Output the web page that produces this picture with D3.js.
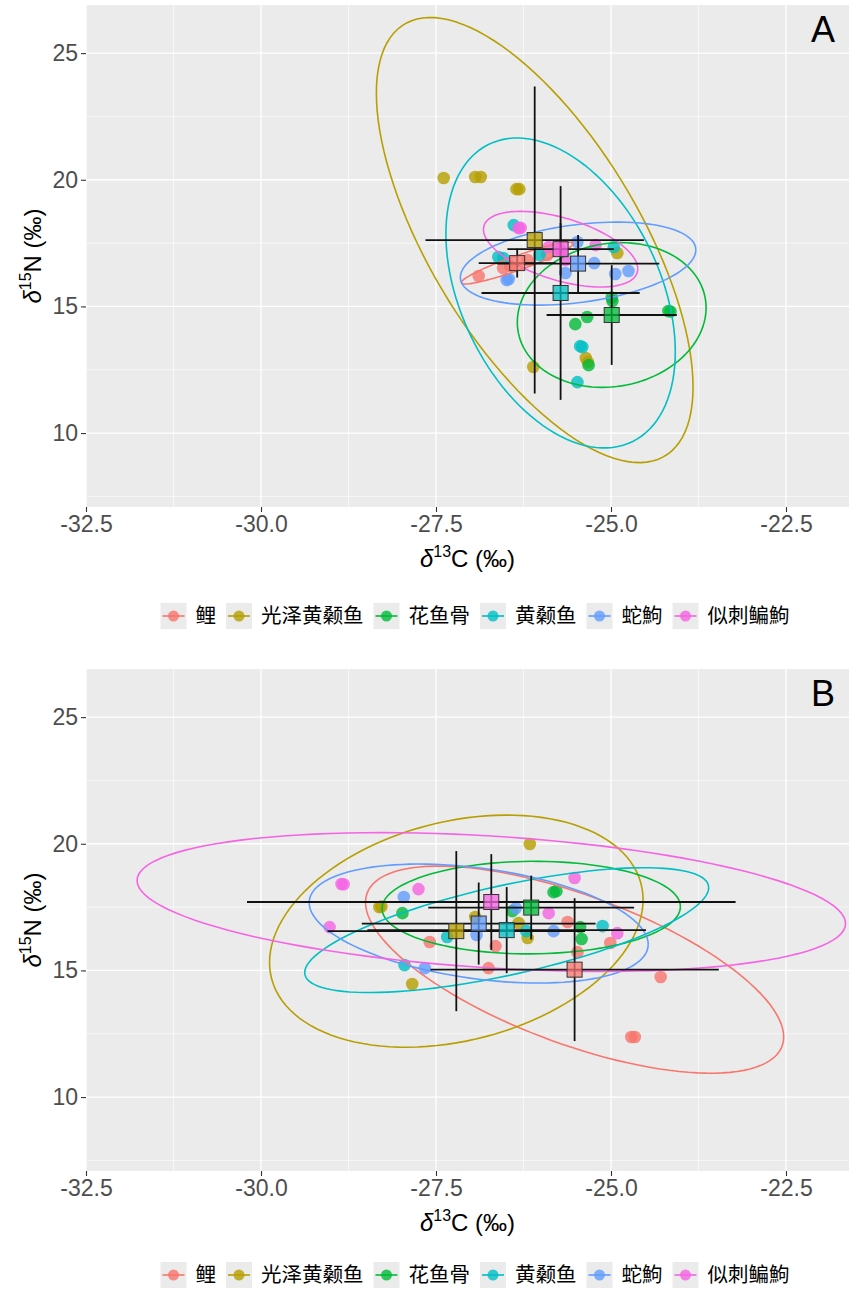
<!DOCTYPE html>
<html>
<head>
<meta charset="utf-8">
<script src="https://cdn.jsdelivr.net/npm/d3@7"></script>
<style>
body { margin: 0; background: #fff; }
</style>
</head>
<body>
<script>
var species = ["鲤", "光泽黄颡鱼", "花鱼骨", "黄颡鱼", "蛇鮈", "似刺鳊鮈"];
var colors = ["#F8766D", "#B79F00", "#00BA38", "#00BFC4", "#619CFF", "#F564E3"];
var xTicks = [-32.5, -30, -27.5, -25, -22.5];
var xMinor = [-31.25, -28.75, -26.25, -23.75];
var yTicks = [10, 15, 20, 25];
var yMinor = [7.5, 12.5, 17.5, 22.5];

// panel A: individual samples [d13C, d15N] per species
var ptsA = [
  [[-26.89,16.20],[-26.54,16.51],[-26.44,16.59],[-26.19,16.83],[-25.91,17.03],[-25.72,17.22]],
  [[-27.39,20.07],[-26.94,20.11],[-26.86,20.11],[-26.35,19.63],[-26.31,19.63],[-24.91,17.11],[-25.36,12.96],[-25.33,12.80],[-26.11,12.61]],
  [[-24.98,15.21],[-24.99,15.35],[-25.34,14.58],[-25.51,14.30],[-24.18,14.82],[-24.15,14.80],[-25.32,12.68]],
  [[-26.39,18.21],[-26.61,16.95],[-26.54,16.91],[-26.02,17.03],[-24.96,17.34],[-25.44,13.43],[-25.41,13.40],[-25.48,12.01]],
  [[-26.49,16.04],[-26.46,16.08],[-25.65,16.32],[-25.48,17.54],[-25.24,16.71],[-24.94,16.28],[-24.75,16.40]],
  [[-26.32,18.09],[-26.29,18.10],[-25.65,16.83],[-25.22,17.42],[-25.89,17.34],[-25.72,17.20]]
];
var meanA = [[-26.34,16.71],[-26.09,17.62],[-24.99,14.66],[-25.72,15.53],[-25.47,16.69],[-25.72,17.26]];
var sdA = [[0.55,0.57],[1.56,6.06],[0.93,1.97],[1.13,4.22],[1.16,1.13],[0.76,1.03]];
var corA = [0.93, -0.66, 0.10, -0.38, 0.33, -0.52];

// panel B
var ptsB = [
  [[-27.59,16.12],[-26.65,15.96],[-26.75,15.09],[-25.62,16.91],[-25.01,16.08],[-25.48,15.72],[-24.29,14.74],[-24.71,12.37],[-24.66,12.37]],
  [[-28.31,17.50],[-28.28,17.52],[-27.84,14.46],[-26.94,17.11],[-26.32,16.87],[-26.19,16.28],[-26.16,19.99]],
  [[-27.98,17.26],[-26.41,17.34],[-25.82,18.09],[-25.78,18.13],[-25.44,16.71],[-25.42,16.24]],
  [[-27.95,15.21],[-27.34,16.32],[-26.21,16.55],[-25.12,16.75]],
  [[-27.96,17.90],[-27.66,15.09],[-26.92,16.40],[-26.36,17.46],[-25.82,16.55]],
  [[-28.85,18.41],[-28.82,18.40],[-27.75,18.21],[-29.02,16.71],[-25.52,18.65],[-25.89,17.26],[-24.91,16.47]]
];
var meanB = [[-25.52,15.03],[-27.21,16.55],[-26.14,17.48],[-26.49,16.59],[-26.89,16.85],[-26.71,17.70]];
var sdB = [[2.06,2.82],[1.84,3.16],[1.47,1.26],[1.99,1.70],[1.67,1.62],[3.49,1.89]];
var corB = [-0.65, 0.27, 0.02, 0.68, -0.35, -0.31];

var ellK = 1.45;   // ellipse half-extent in sd units

var W = 849, H = 1290;
var left = 86, right = 849, ph = 502;
var sans = "'Liberation Sans', Arial, sans-serif";
var cjk = "'Noto Sans CJK SC', sans-serif";

var svg = d3.select("body").append("svg")
    .attr("width", W)
    .attr("height", H);

function drawPanel(top, pts, means, sds, cors, label, id) {
  var x = d3.scaleLinear().domain([-32.5, -21.6]).range([left, right]);
  var y = d3.scaleLinear().domain([7.08, 26.9]).range([top + ph, top]);
  var g = svg.append("g");

  g.append("clipPath").attr("id", "clip" + id)
    .append("rect").attr("x", left).attr("y", top).attr("width", right - left).attr("height", ph);

  g.append("rect")
    .attr("x", left).attr("y", top)
    .attr("width", right - left).attr("height", ph)
    .attr("fill", "#EBEBEB");

  var grid = g.append("g").attr("clip-path", "url(#clip" + id + ")");
  grid.selectAll(".vmin").data(xMinor).enter().append("line")
    .attr("x1", d => x(d)).attr("x2", d => x(d))
    .attr("y1", top).attr("y2", top + ph)
    .attr("stroke", "#fff").attr("stroke-width", 0.6);
  grid.selectAll(".hmin").data(yMinor).enter().append("line")
    .attr("x1", left).attr("x2", right)
    .attr("y1", d => y(d)).attr("y2", d => y(d))
    .attr("stroke", "#fff").attr("stroke-width", 0.6);
  grid.selectAll(".vmaj").data(xTicks).enter().append("line")
    .attr("x1", d => x(d)).attr("x2", d => x(d))
    .attr("y1", top).attr("y2", top + ph)
    .attr("stroke", "#fff").attr("stroke-width", 1.3);
  grid.selectAll(".hmaj").data(yTicks).enter().append("line")
    .attr("x1", left).attr("x2", right)
    .attr("y1", d => y(d)).attr("y2", d => y(d))
    .attr("stroke", "#fff").attr("stroke-width", 1.3);

  var plot = g.append("g").attr("clip-path", "url(#clip" + id + ")");

  // samples
  pts.forEach(function (list, i) {
    plot.selectAll(".p" + i).data(list).enter().append("circle")
      .attr("cx", d => x(d[0]))
      .attr("cy", d => y(d[1]))
      .attr("r", 6.3)
      .attr("fill", colors[i])
      .attr("fill-opacity", 0.8);
  });

  // ellipses
  var line = d3.line().x(d => x(d[0])).y(d => y(d[1]));
  means.forEach(function (m, i) {
    var sx = sds[i][0] * ellK, sy = sds[i][1] * ellK, r = cors[i];
    var ring = d3.range(0, 121).map(function (k) {
      var t = k / 120 * 2 * Math.PI;
      return [m[0] + sx * Math.cos(t),
              m[1] + sy * (r * Math.cos(t) + Math.sqrt(1 - r * r) * Math.sin(t))];
    });
    plot.append("path")
      .attr("d", line(ring))
      .attr("fill", "none")
      .attr("stroke", colors[i])
      .attr("stroke-width", 1.6);
  });

  // error bars
  means.forEach(function (m, i) {
    plot.append("line")
      .attr("x1", x(m[0] - sds[i][0])).attr("x2", x(m[0] + sds[i][0]))
      .attr("y1", y(m[1])).attr("y2", y(m[1]))
      .attr("stroke", "#111").attr("stroke-width", 1.8);
    plot.append("line")
      .attr("x1", x(m[0])).attr("x2", x(m[0]))
      .attr("y1", y(m[1] - sds[i][1])).attr("y2", y(m[1] + sds[i][1]))
      .attr("stroke", "#111").attr("stroke-width", 1.8);
  });

  // means
  plot.selectAll(".mean").data(means).enter().append("rect")
    .attr("x", d => x(d[0]) - 7.5)
    .attr("y", d => y(d[1]) - 7.5)
    .attr("width", 15).attr("height", 15)
    .attr("fill", (d, i) => colors[i])
    .attr("fill-opacity", 0.75)
    .attr("stroke", "#333")
    .attr("stroke-width", 1);

  // axes
  var ax = g.append("g").attr("transform", "translate(" + left + ",0)")
    .call(d3.axisLeft(y).tickValues(yTicks).tickSize(5).tickPadding(3).tickFormat(d => String(d)));
  var bx = g.append("g").attr("transform", "translate(0," + (top + ph) + ")")
    .call(d3.axisBottom(x).tickValues(xTicks).tickSize(5).tickPadding(4).tickFormat(d => d.toFixed(1)));
  [ax, bx].forEach(function (a) {
    a.select(".domain").remove();
    a.selectAll(".tick line").attr("stroke", "#333").attr("stroke-width", 1.1);
    a.selectAll(".tick text")
      .attr("fill", "#4D4D4D")
      .style("font-family", sans)
      .style("font-size", "23px");
  });

  // axis titles
  var xt = g.append("text")
    .attr("x", (left + right) / 2)
    .attr("y", top + ph + 60)
    .attr("text-anchor", "middle")
    .style("font-family", sans)
    .style("font-size", "24px")
    .attr("fill", "#000");
  xt.append("tspan").style("font-style", "italic").text("δ");
  xt.append("tspan").attr("dy", -10).style("font-size", "16px").text("13");
  xt.append("tspan").attr("dy", 10).text("C (‰)");

  var yt = g.append("text")
    .attr("transform", "translate(41," + (top + ph / 2) + ") rotate(-90)")
    .attr("text-anchor", "middle")
    .style("font-family", sans)
    .style("font-size", "24px")
    .attr("fill", "#000");
  yt.append("tspan").style("font-style", "italic").text("δ");
  yt.append("tspan").attr("dy", -10).style("font-size", "16px").text("15");
  yt.append("tspan").attr("dy", 10).text("N (‰)");

  // panel tag
  g.append("text")
    .attr("x", 823).attr("y", top + 37)
    .attr("text-anchor", "middle")
    .style("font-family", sans)
    .style("font-size", "36px")
    .attr("fill", "#000")
    .text(label);

  // legend
  var lg = g.append("g");
  var cx = 0, ky = Math.min(top + ph + 96, H - 28);
  species.forEach(function (s, i) {
    var it = lg.append("g").attr("transform", "translate(" + cx + "," + ky + ")");
    it.append("rect").attr("x", 0).attr("y", 0).attr("width", 26).attr("height", 26).attr("fill", "#EBEBEB");
    it.append("line").attr("x1", 2).attr("x2", 24).attr("y1", 13).attr("y2", 13)
      .attr("stroke", colors[i]).attr("stroke-width", 1.6);
    it.append("circle").attr("cx", 13).attr("cy", 13).attr("r", 5.5)
      .attr("fill", colors[i]).attr("fill-opacity", 0.8);
    var tx = it.append("text").attr("x", 35).attr("y", 20)
      .style("font-family", cjk).style("font-size", "20.5px").attr("fill", "#000")
      .text(s);
    cx += 35 + tx.node().getComputedTextLength() + 10;
  });
  var total = cx - 10;
  lg.attr("transform", "translate(" + (475 - total / 2) + ",0)");
}

drawPanel(5, ptsA, meanA, sdA, corA, "A", "a");
drawPanel(669, ptsB, meanB, sdB, corB, "B", "b");
</script>
</body>
</html>
